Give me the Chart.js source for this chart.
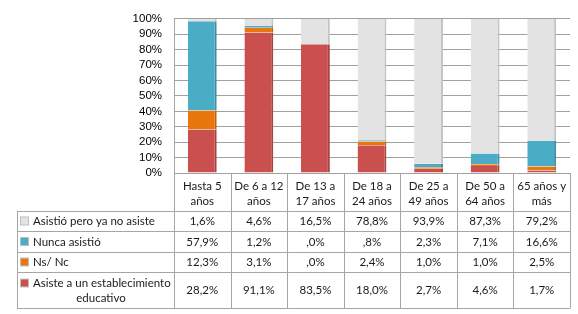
<!DOCTYPE html>
<html>
<head>
<meta charset="utf-8">
<script src="https://cdn.jsdelivr.net/npm/chart.js@4"></script>
<style>
  html, body { margin: 0; padding: 0; background: #fff; }
  #wrap { position: relative; width: 578px; height: 314px; }
</style>
</head>
<body>
<div id="wrap"><canvas id="chart" width="578" height="314"></canvas></div>
<script>
// categories (two-line labels as in the table header)
const categories = [
  ["Hasta 5", "años"],
  ["De 6 a 12", "años"],
  ["De 13 a", "17 años"],
  ["De 18 a", "24 años"],
  ["De 25 a", "49 años"],
  ["De 50 a", "64 años"],
  ["65 años y", "más"],
];

const asistioYaNo = [1.6, 4.6, 16.5, 78.8, 93.9, 87.3, 79.2];
const nuncaAsistio = [57.9, 1.2, 0.0, 0.8, 2.3, 7.1, 16.6];
const nsNc = [12.3, 3.1, 0.0, 2.4, 1.0, 1.0, 2.5];
const asiste = [28.2, 91.1, 83.5, 18.0, 2.7, 4.6, 1.7];

const yTicks = [0, 10, 20, 30, 40, 50, 60, 70, 80, 90, 100];

// table rows top to bottom
const tableRows = [
  { label: ["Asistió pero ya no asiste"], data: asistioYaNo, color: "#E3E3E3" },
  { label: ["Nunca asistió"], data: nuncaAsistio, color: "#4BACC6" },
  { label: ["Ns/ Nc"], data: nsNc, color: "#E8770E" },
  { label: ["Asiste a un establecimiento", "educativo"], data: asiste, color: "#C9504F" },
];

function fmt(v) {
  // Spanish style, no leading zero: 0.8 -> ",8%"
  let s = v.toFixed(1).replace(".", ",");
  if (s.startsWith("0,")) s = s.slice(1);
  return s + "%";
}

const tableFont = "11.5px Lato, 'Open Sans', sans-serif";
const lineCol = "#A6A6A6";

const tablePlugin = {
  id: "dataTable",
  afterDraw(chart) {
    const ctx = chart.ctx;
    const area = chart.chartArea;
    const x = chart.scales.x;
    const n = categories.length;
    const step = (area.right - area.left) / n;
    const leftEdge = 17;
    const headTop = area.bottom;
    const rowLines = [211.5, 231.5, 252.5, 272.5, 308.5];

    ctx.save();
    ctx.strokeStyle = lineCol;
    ctx.lineWidth = 1;

    // vertical lines of header + body
    for (let i = 0; i <= n; i++) {
      const px = Math.round(area.left + i * step) + 0.5;
      ctx.beginPath();
      ctx.moveTo(px, headTop);
      ctx.lineTo(px, rowLines[rowLines.length - 1]);
      ctx.stroke();
    }
    ctx.beginPath();
    ctx.moveTo(leftEdge + 0.5, rowLines[0]);
    ctx.lineTo(leftEdge + 0.5, rowLines[rowLines.length - 1]);
    ctx.stroke();

    // horizontal row lines
    rowLines.forEach((y) => {
      ctx.beginPath();
      ctx.moveTo(leftEdge, y);
      ctx.lineTo(area.right, y);
      ctx.stroke();
    });

    // header labels
    ctx.fillStyle = "#1a1a1a";
    ctx.font = tableFont;
    ctx.textAlign = "center";
    ctx.textBaseline = "middle";
    categories.forEach((lab, i) => {
      const cx = x.getPixelForValue(i);
      ctx.fillText(lab[0], cx, 186);
      ctx.fillText(lab[1], cx, 201);
    });

    // body rows
    tableRows.forEach((row, r) => {
      const top = rowLines[r];
      const bot = rowLines[r + 1];
      const mid = (top + bot) / 2;
      const shift = row.label.length > 1 ? 7 : 0;

      // legend marker
      ctx.fillStyle = row.color;
      ctx.fillRect(21, mid - 4 - shift, 7, 7);
      ctx.strokeStyle = "rgba(0,0,0,0.25)";
      ctx.strokeRect(20.5, mid - 4.5 - shift, 8, 8);

      ctx.fillStyle = "#1a1a1a";
      if (row.label.length === 1) {
        ctx.textAlign = "left";
        ctx.fillText(row.label[0], 33, mid);
      } else {
        ctx.textAlign = "left";
        ctx.fillText(row.label[0], 33, mid - 7);
        ctx.textAlign = "center";
        ctx.fillText(row.label[1], 101, mid + 8);
      }

      ctx.textAlign = "center";
      row.data.forEach((v, i) => {
        ctx.fillText(fmt(v), x.getPixelForValue(i), mid);
      });
    });
    ctx.restore();
  },
};

const bars = [
  { label: "Asiste a un establecimiento educativo", data: asiste, backgroundColor: "#C9504F", borderColor: "#A94240" },
  { label: "Ns/ Nc", data: nsNc, backgroundColor: "#E8770E", borderColor: "#C0620B" },
  { label: "Nunca asistió", data: nuncaAsistio, backgroundColor: "#4BACC6", borderColor: "#3A8FA6" },
  { label: "Asistió pero ya no asiste", data: asistioYaNo, backgroundColor: "#E3E3E3", borderColor: "#C4C4C4" },
];

new Chart(document.getElementById("chart"), {
  type: "bar",
  data: {
    labels: categories.map((c) => c.join(" ")),
    datasets: bars.map((b) => ({
      ...b,
      borderWidth: { left: 0, top: 0, bottom: 0, right: 2 },
      borderSkipped: false,
      barPercentage: 1,
      categoryPercentage: 0.51,
    })),
  },
  options: {
    responsive: false,
    animation: false,
    layout: { padding: { top: 10, right: 8, bottom: 141, left: 0 } },
    plugins: { legend: { display: false }, tooltip: { enabled: false } },
    scales: {
      x: {
        stacked: true,
        display: false,
      },
      y: {
        stacked: true,
        min: 0,
        max: 100,
        afterFit(scale) { scale.width = 174; },
        afterBuildTicks(scale) { scale.ticks = yTicks.map((v) => ({ value: v })); },
        border: { display: true, color: lineCol },
        grid: { color: "#A0A0A0", drawTicks: false },
        ticks: {
          autoSkip: false,
          padding: 12,
          color: "#000",
          font: { family: "'Liberation Sans', Arial, sans-serif", size: 11.5 },
          callback: (v) => v + "%",
        },
      },
    },
  },
  plugins: [tablePlugin],
});
</script>
</body>
</html>
